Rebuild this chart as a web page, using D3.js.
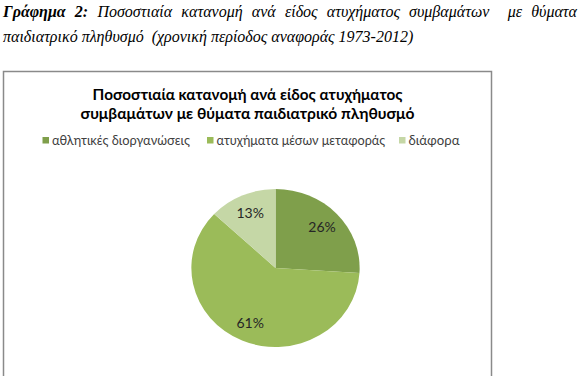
<!DOCTYPE html>
<html>
<head>
<meta charset="utf-8">
<script src="https://cdn.jsdelivr.net/npm/d3@7/dist/d3.min.js"></script>
<style>
  html, body { margin: 0; padding: 0; background: #fff; width: 581px; height: 376px; overflow: hidden; }
  .cap { position: absolute; left: 3px; width: 574px; font-family: "Liberation Serif", "Times New Roman", serif; font-style: italic; font-size: 16px; color: #000; white-space: nowrap; }
  #cap1 { top: 3px; text-align: justify; text-align-last: justify; white-space: normal; }
  #cap2 { top: 28px; }
  svg { position: absolute; left: 0; top: 0; }
</style>
</head>
<body>
<div class="cap" id="cap1"><b>Γράφημα 2:</b> Ποσοστιαία κατανομή ανά είδος ατυχήματος συμβαμάτων &nbsp;με θύματα</div>
<div class="cap" id="cap2">παιδιατρικό πληθυσμό &nbsp;(χρονική περίοδος αναφοράς 1973-2012)</div>
<svg id="chart" width="581" height="376"></svg>
<script>
const categories = ["αθλητικές διοργανώσεις", "ατυχήματα μέσων μεταφοράς", "διάφορα"];
const values = [26, 61, 13];
const colors = ["#7F9F4B", "#9BBB59", "#C5D7A6"];
const titleLines = ["Ποσοστιαία κατανομή ανά είδος ατυχήματος", "συμβαμάτων με θύματα παιδιατρικό πληθυσμό"];

const svg = d3.select("#chart");
const font = "Lato, 'Open Sans', 'DejaVu Sans', sans-serif";

// chart frame
svg.append("rect")
  .attr("x", 3.5).attr("y", 71.5).attr("width", 488).attr("height", 320)
  .attr("fill", "#fff").attr("stroke", "#8a8a8a").attr("stroke-width", 1.5);

// title
const titleWidths = [310, 334];
titleLines.forEach((t, i) => {
  const el = svg.append("text")
    .attr("x", 247.5).attr("y", 99.5 + i * 19)
    .attr("text-anchor", "middle")
    .attr("font-family", font).attr("font-weight", "bold")
    .attr("font-size", 15).attr("fill", "#000")
    .text(t);
  const w = el.node().getComputedTextLength();
  el.attr("font-size", 15 * titleWidths[i] / w);
});

// legend
const legX = [42.5, 207, 399];
const legW = [138, 169, 51];
const legend = svg.append("g");
categories.forEach((c, i) => {
  legend.append("rect")
    .attr("x", legX[i]).attr("y", 137).attr("width", 6.5).attr("height", 6.5)
    .attr("fill", colors[i]);
  const el = legend.append("text")
    .attr("x", legX[i] + 9.5).attr("y", 144.5)
    .attr("font-family", font).attr("font-size", 12).attr("fill", "#404040")
    .text(c);
  const w = el.node().getComputedTextLength();
  el.attr("font-size", 12 * legW[i] / w);
});

// pie
const pie = d3.pie().sort(null).value(d => d)(values);
const r = 79;
const arc = d3.arc().innerRadius(0).outerRadius(r);
const labelArc = d3.arc().innerRadius(60).outerRadius(60);
const g = svg.append("g").attr("transform", "translate(275.5,268)");
const pg = g.append("g").attr("transform", "scale(1.065,1)");
pg.selectAll("path").data(pie).join("path")
  .attr("d", arc)
  .attr("fill", (d, i) => colors[i]);

g.selectAll("text").data(pie).join("text")
  .attr("x", d => labelArc.centroid(d)[0] * 1.065)
  .attr("y", d => labelArc.centroid(d)[1])
  .attr("dy", "0.35em")
  .attr("text-anchor", "middle")
  .attr("font-family", font).attr("font-size", 14).attr("fill", "#262626")
  .text(d => d.data + "%");
</script>
</body>
</html>
